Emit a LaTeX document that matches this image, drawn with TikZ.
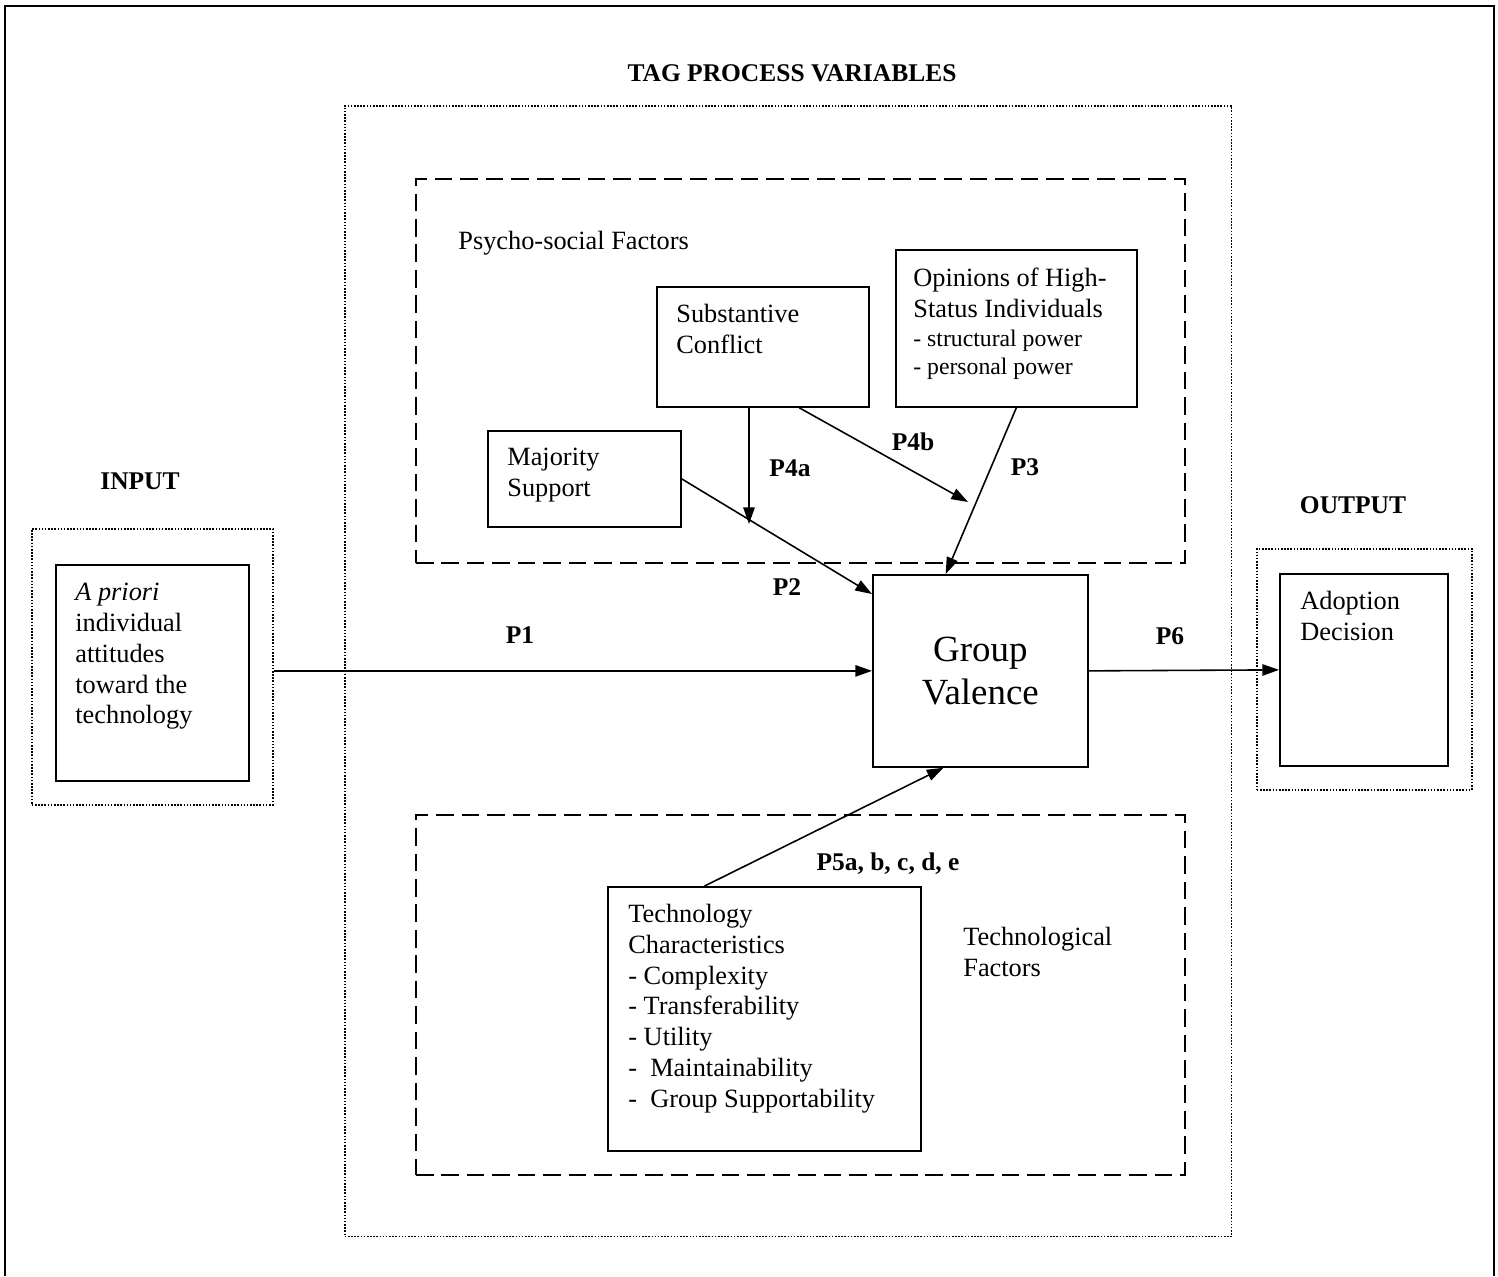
\documentclass[tikz,border=0pt]{standalone}
\usepackage{fontspec}
\setmainfont{Liberation Serif}
\usetikzlibrary{arrows.meta,calc}
\tikzset{
  box/.style={draw, line width=1pt, inner sep=0pt, anchor=north west},
  dashbox/.style={box, line width=1.1pt, dash pattern=on 10pt off 4.5pt},
  dotbox/.style={box, line width=0.9pt, dash pattern=on 0.9pt off 0.9pt},
  txt/.style={anchor=north west, inner sep=0pt, align=left, font=\fontsize{15}{17.5}\selectfont},
  lbl/.style={inner sep=0pt, font=\fontsize{14.5}{17}\selectfont\bfseries},
  arr/.style={-{Triangle[length=9.5pt,width=6.5pt]}, line width=0.9pt}
}
\begin{document}
\begin{tikzpicture}[x=0.02cm, y=-0.02cm]
    \useasboundingbox (0,0) rectangle (1498,1276);

    % Outer frame
    \draw[line width=1.2pt] (5,1276) -- (5,6) -- (1494,6) -- (1494,1276);

    % Process variables
    \node[lbl] (tagtitle) at (792,73) {TAG PROCESS VARIABLES};
    \node[dotbox, minimum width=17.74cm, minimum height=22.62cm] (tag) at (344,105) {};

    % Psycho-social factors
    \node[dashbox, minimum width=15.38cm, minimum height=7.68cm] (psy) at (415,178) {};
    \node[txt] (psytext) at (458,231) {Psycho-social Factors};
    \node[box, minimum width=4.24cm, minimum height=2.4cm] (sc) at (656,286) {};
    \node[txt] (sctext) at (676,304) {Substantive\\Conflict};
    \node[box, minimum width=4.82cm, minimum height=3.14cm] (op) at (895,249) {};
    \node[txt] (optext) at (913,268) {Opinions of High-\\Status Individuals\\[-1pt]
        {\fontsize{13.5}{16}\selectfont - structural power}\\[-1.5pt]
        {\fontsize{13.5}{16}\selectfont - personal power}};
    \node[box, minimum width=3.86cm, minimum height=1.92cm] (ms) at (487,430) {};
    \node[txt] (mstext) at (507,448) {Majority\\Support};

    % Group valence
    \node[box, minimum width=4.3cm, minimum height=3.84cm] (gv) at (872,574) {};
    \node[align=center, font=\fontsize{21}{24.5}\selectfont] (gvtext) at (gv.center) {Group\\Valence};

    % Input
    \node[lbl] (intitle) at (140,481) {INPUT};
    \node[dotbox, minimum width=4.82cm, minimum height=5.52cm] (indot) at (31,528) {};
    \node[box, minimum width=3.86cm, minimum height=4.32cm] (inbox) at (55,564) {};
    \node[txt] (intext) at (75,583) {\textit{A priori}\\individual\\attitudes\\toward the\\technology};

    % Output
    \node[lbl] (outtitle) at (1353,505) {OUTPUT};
    \node[dotbox, minimum width=4.3cm, minimum height=4.82cm] (outdot) at (1256,548) {};
    \node[box, minimum width=3.36cm, minimum height=3.84cm] (outbox) at (1279,573) {};
    \node[txt] (outtext) at (1300,591) {Adoption\\Decision};

    % Technological factors
    \node[dashbox, minimum width=15.38cm, minimum height=7.2cm] (tech) at (415,814) {};
    \node[box, minimum width=6.26cm, minimum height=5.28cm] (tc) at (607,886) {};
    \node[txt] (tctext) at (628,904) {Technology\\Characteristics\\- Complexity\\- Transferability\\- Utility\\-\ \ Maintainability\\-\ \ Group Supportability};
    \node[txt] (techtext) at (963,927) {Technological\\Factors};

    % Connectors
    \coordinate (p4aend) at (749,524);
    \coordinate (p4bend) at (968,502);
    \draw[arr] (sc.south -| p4aend) -- (p4aend);
    \draw[arr] ($(sc.south west)!0.67!(sc.south east)$) -- (p4bend);
    \draw[arr] (op.south) -- ($(gv.north west)!0.34!(gv.north east)$);
    \draw[arr] (ms.east) -- ($(gv.north west)+(0,20)$);
    \draw[arr] (gv.west -| indot.east) -- (gv.west);
    \draw[arr] (gv.east) -- (outbox.west);
    \draw[arr] ($(tc.north west)!0.31!(tc.north east)$) -- ($(gv.south west)!0.33!(gv.south east)$);

    % Proposition labels
    \node[lbl] (p1) at (520,635) {P1};
    \node[lbl] (p2) at (787,587) {P2};
    \node[lbl] (p3) at (1025,467) {P3};
    \node[lbl] (p4a) at (790,468) {P4a};
    \node[lbl] (p4b) at (913,442) {P4b};
    \node[lbl] (p5) at (888,864) {P5a, b, c, d, e};
    \node[lbl] (p6) at (1170,636) {P6};
\end{tikzpicture}
\end{document}
